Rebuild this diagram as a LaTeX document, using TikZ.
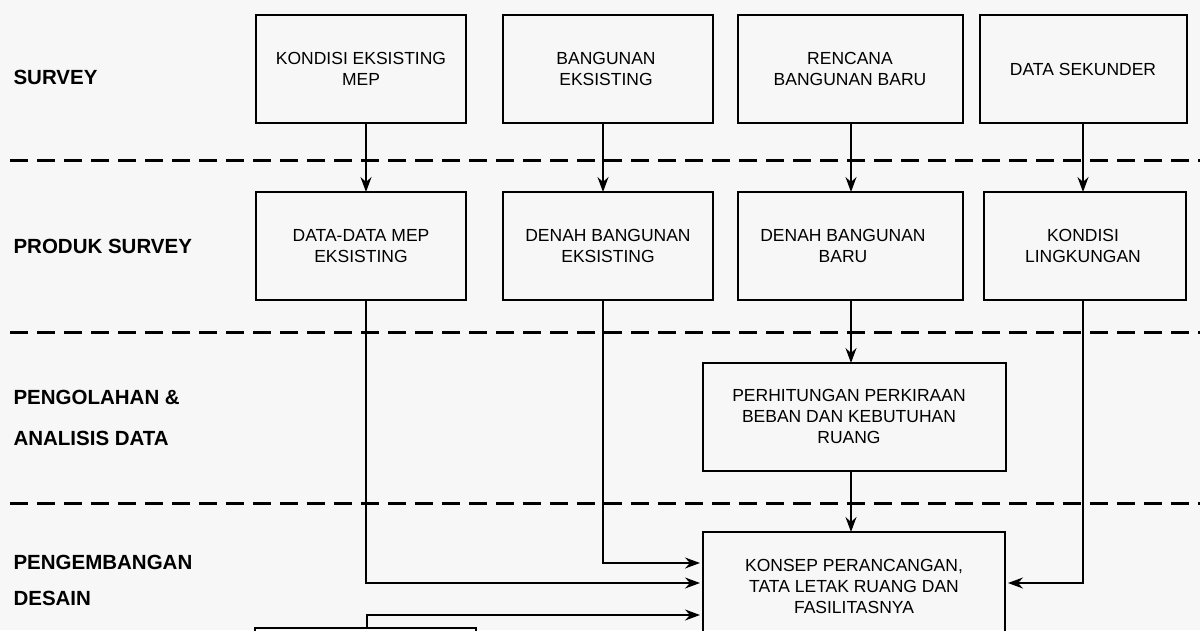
\documentclass[tikz,border=0pt]{standalone}
\usepackage{fontspec}
\setmainfont{Liberation Sans}
\usetikzlibrary{arrows.meta}
\begin{document}
\begin{tikzpicture}[x=1pt,y=-1pt,
  box/.style={draw,line width=1.3pt},
  btxt/.style={align=center,font=\fontsize{17.5}{21}\selectfont},
  lab/.style={anchor=west,font=\fontsize{20.5}{24}\selectfont\bfseries},
  dash line/.style={line width=3pt,dash pattern=on 18pt off 9pt},
  arr/.style={line width=1.3pt,-{Stealth[length=15pt,width=11pt,inset=5pt]}}]
\useasboundingbox (0,0) rectangle (1200,630);
\fill[white!97!black] (0,0) rectangle (1200,630);
% dashed separators
\foreach \y in {160,332,503}
  \draw[dash line] (10,\y) -- (1200,\y);
% labels
\node[lab] (l1) at (10,77) {SURVEY};
\node[lab] (l2) at (10,246) {PRODUK SURVEY};
\node[lab] (l3) at (10,397) {PENGOLAHAN \&};
\node[lab] (l4) at (10,438) {ANALISIS DATA};
\node[lab] (l5) at (10,562) {PENGEMBANGAN};
\node[lab] (l6) at (10,598) {DESAIN};
% row 1
\draw[box] (256,15) rectangle (466,123); \node[btxt] (a1) at (361,69) {KONDISI EKSISTING\\MEP};
\draw[box] (503,15) rectangle (713,123); \node[btxt] (a2) at (606,69) {BANGUNAN\\EKSISTING};
\draw[box] (738,15) rectangle (963,123); \node[btxt] (a3) at (850,69) {RENCANA\\BANGUNAN BARU};
\draw[box] (980,15) rectangle (1187,123); \node[btxt] (a4) at (1083,69) {DATA SEKUNDER};
% row 2
\draw[box] (256,192) rectangle (466,300); \node[btxt] (b1) at (361,246) {DATA-DATA MEP\\EKSISTING};
\draw[box] (503,192) rectangle (713,300); \node[btxt] (b2) at (608,246) {DENAH BANGUNAN\\EKSISTING};
\draw[box] (738,192) rectangle (963,300); \node[btxt] (b3) at (843,246) {DENAH BANGUNAN\\BARU};
\draw[box] (984,192) rectangle (1186,300); \node[btxt] (b4) at (1083,246) {KONDISI\\LINGKUNGAN};
% processing
\draw[box] (703,363) rectangle (1006,471); \node[btxt] (p) at (849,416) {PERHITUNGAN PERKIRAAN\\BEBAN DAN KEBUTUHAN\\RUANG};
% konsep
\draw[box] (703,532) rectangle (1005,640); \node[btxt] (k) at (854,586) {KONSEP PERANCANGAN,\\TATA LETAK RUANG DAN\\FASILITASNYA};
% partial box
\draw[box] (255,628) rectangle (476,660);
% connectors
\coordinate (c1t) at (366,123); \coordinate (c1b) at (366,192);
\coordinate (c2t) at (603,123); \coordinate (c2b) at (603,192);
\coordinate (c3t) at (851,123); \coordinate (c3b) at (851,192);
\coordinate (c4t) at (1083,123); \coordinate (c4b) at (1083,192);
\draw[arr] (c1t) -- (c1b);
\draw[arr] (c2t) -- (c2b);
\draw[arr] (c3t) -- (c3b);
\draw[arr] (c4t) -- (c4b);
\draw[arr] (851,300) -- (851,363);
\draw[arr] (851,471) -- (851,532);
\draw[arr] (366,300) -- (366,583) -- (700,583);
\draw[arr] (603,300) -- (603,563) -- (700,563);
\draw[arr] (1083,300) -- (1083,583) -- (1008,583);
\draw[arr] (367,628) -- (367,615) -- (700,615);
\end{tikzpicture}
\end{document}
